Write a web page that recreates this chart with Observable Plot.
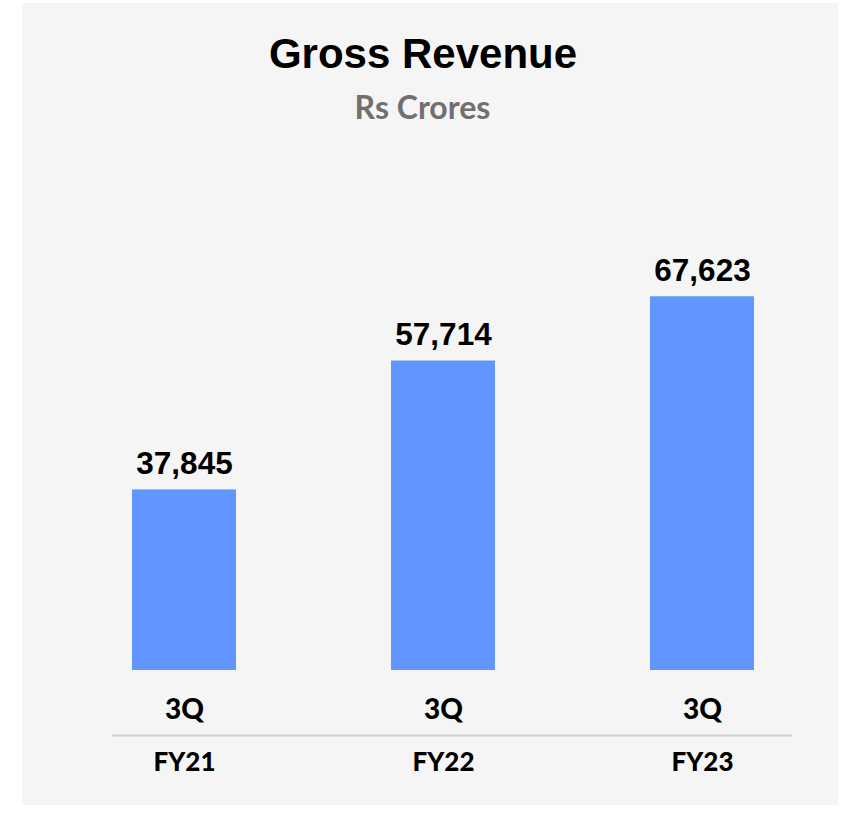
<!DOCTYPE html>
<html>
<head>
<meta charset="utf-8">
<script src="https://cdn.jsdelivr.net/npm/d3@7"></script>
<script src="https://cdn.jsdelivr.net/npm/@observablehq/plot@0.6"></script>
<style>
  html, body { margin: 0; padding: 0; background: #ffffff; }
  #wrap { position: relative; width: 854px; height: 834px; overflow: hidden; }
  #panel { position: absolute; left: 22px; top: 3px; width: 816px; height: 802px; background: #f5f5f5; }
  #title { position: absolute; left: 0; width: 846px; top: 29px; text-align: center;
           font-family: "Liberation Sans", Arial, sans-serif; font-weight: bold; font-size: 42px; line-height: 50px; color: #000; margin: 0; }
  #subtitle { position: absolute; left: 0; width: 845px; top: 88px; text-align: center;
              font-family: Lato, "Open Sans", sans-serif; font-weight: bold; font-size: 32px; line-height: 38px; color: #707070; margin: 0; }
  #chart { position: absolute; left: 0; top: 0; }
  #chart svg { background: transparent; }
</style>
</head>
<body>
<div id="wrap">
  <div id="panel"></div>
  <div id="chart"></div>
  <h1 id="title">Gross Revenue</h1>
  <div id="subtitle">Rs Crores</div>
</div>
<script>
const years = ["FY21", "FY22", "FY23"];
const quarters = ["3Q", "3Q", "3Q"];
const revenue = [37845, 57714, 67623];
const yMin = 10000;
const yMax = 80000;

const data = years.map((y, i) => ({year: y, quarter: quarters[i], value: revenue[i]}));
const fmt = d3.format(",");

const plot = Plot.plot({
  width: 854,
  height: 834,
  marginLeft: 112,
  marginRight: 62,
  marginTop: 216,
  marginBottom: 164,
  style: {background: "transparent", overflow: "visible"},
  x: {domain: years, range: [54, 832], paddingInner: 0.6, paddingOuter: 0.3, axis: null},
  y: {domain: [yMin, yMax], range: [670, 216], axis: null},
  marks: [
    Plot.barY(data, {x: "year", y1: () => yMin, y2: "value", fill: "#6096fd"}),
    Plot.text(data, {x: "year", y: "value", text: d => fmt(d.value), dy: -26,
      fontFamily: "Liberation Sans, Arial, sans-serif", fontWeight: "bold", fontSize: 31.5, fill: "#000"}),
    Plot.text(data, {x: "year", y: () => yMin, text: "quarter", dy: 40,
      fontFamily: "Lato, sans-serif", fontWeight: "900", fontSize: 28, fill: "#000"}),
    Plot.ruleY([yMin], {dy: 65, stroke: "#d0d0d0", strokeWidth: 2}),
    Plot.text(data, {x: "year", y: () => yMin, text: "year", dy: 92,
      fontFamily: "Lato, sans-serif", fontWeight: "900", fontSize: 26, fill: "#000"})
  ]
});
document.getElementById("chart").appendChild(plot);
</script>
</body>
</html>
